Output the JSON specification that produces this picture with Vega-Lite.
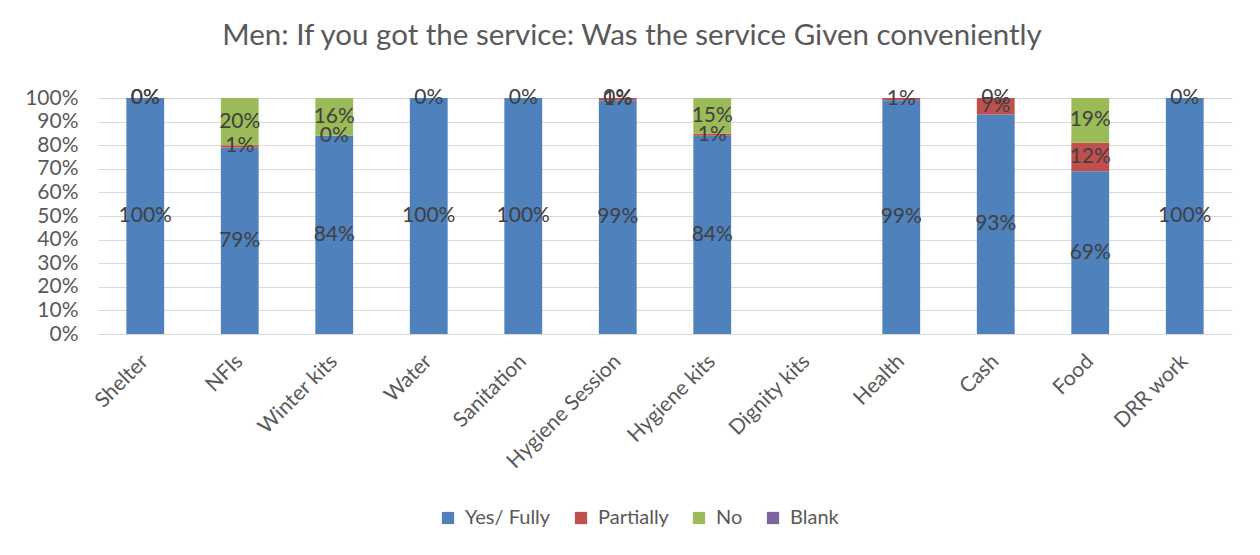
{
  "$schema": "https://vega.github.io/schema/vega-lite/v6.json",
  "width": 1134,
  "height": 236,
  "autosize": "none",
  "padding": {"left": 98, "top": 98, "right": 28, "bottom": 221},
  "background": "white",
  "title": {
    "text": "Men: If you got the service: Was the service Given conveniently",
    "font": "Lato",
    "fontSize": 29.5,
    "fontWeight": "normal",
    "color": "#595959",
    "offset": 36,
    "dx": -33
  },
  "config": {
    "font": "Lato",
    "view": {"stroke": null},
    "axis": {"labelFont": "Lato", "labelColor": "#595959", "labelFontSize": 21}
  },
  "data": {
    "values": [
      {"category": "Shelter", "series": "Yes/ Fully", "ord": 1, "value": 1.0},
      {"category": "Shelter", "series": "Partially", "ord": 2, "value": 0.0},
      {"category": "Shelter", "series": "No", "ord": 3, "value": 0.0},
      {"category": "NFIs", "series": "Yes/ Fully", "ord": 1, "value": 0.79},
      {"category": "NFIs", "series": "Partially", "ord": 2, "value": 0.01},
      {"category": "NFIs", "series": "No", "ord": 3, "value": 0.20},
      {"category": "Winter kits", "series": "Yes/ Fully", "ord": 1, "value": 0.84},
      {"category": "Winter kits", "series": "Partially", "ord": 2, "value": 0.0},
      {"category": "Winter kits", "series": "No", "ord": 3, "value": 0.16},
      {"category": "Water", "series": "Yes/ Fully", "ord": 1, "value": 1.0},
      {"category": "Water", "series": "Partially", "ord": 2, "value": 0.0},
      {"category": "Sanitation", "series": "Yes/ Fully", "ord": 1, "value": 1.0},
      {"category": "Sanitation", "series": "Partially", "ord": 2, "value": 0.0},
      {"category": "Hygiene Session", "series": "Yes/ Fully", "ord": 1, "value": 0.99},
      {"category": "Hygiene Session", "series": "Partially", "ord": 2, "value": 0.01},
      {"category": "Hygiene Session", "series": "No", "ord": 3, "value": 0.0},
      {"category": "Hygiene kits", "series": "Yes/ Fully", "ord": 1, "value": 0.84},
      {"category": "Hygiene kits", "series": "Partially", "ord": 2, "value": 0.01},
      {"category": "Hygiene kits", "series": "No", "ord": 3, "value": 0.15},
      {"category": "Health", "series": "Yes/ Fully", "ord": 1, "value": 0.99},
      {"category": "Health", "series": "Partially", "ord": 2, "value": 0.01},
      {"category": "Cash", "series": "Yes/ Fully", "ord": 1, "value": 0.93},
      {"category": "Cash", "series": "Partially", "ord": 2, "value": 0.07},
      {"category": "Cash", "series": "No", "ord": 3, "value": 0.0},
      {"category": "Food", "series": "Yes/ Fully", "ord": 1, "value": 0.69},
      {"category": "Food", "series": "Partially", "ord": 2, "value": 0.12},
      {"category": "Food", "series": "No", "ord": 3, "value": 0.19},
      {"category": "DRR work", "series": "Yes/ Fully", "ord": 1, "value": 1.0},
      {"category": "DRR work", "series": "Partially", "ord": 2, "value": 0.0}
    ]
  },
  "transform": [
    {"stack": "value", "groupby": ["category"], "sort": [{"field": "ord", "order": "ascending"}], "as": ["s0", "s1"]},
    {"calculate": "(datum.s0 + datum.s1) / 2", "as": "mid"}
  ],
  "encoding": {
    "x": {
      "field": "category",
      "type": "nominal",
      "sort": null,
      "scale": {
        "domain": ["Shelter", "NFIs", "Winter kits", "Water", "Sanitation", "Hygiene Session", "Hygiene kits", "Dignity kits", "Health", "Cash", "Food", "DRR work"],
        "paddingInner": 0.6,
        "paddingOuter": 0.3
      },
      "axis": {
        "title": null,
        "labelAngle": -45,
        "labelAlign": "right",
        "labelBaseline": "middle",
        "labelPadding": 24,
        "labelOverlap": false,
        "ticks": false,
        "domainColor": "#d9d9d9",
        "domainWidth": 1
      }
    }
  },
  "layer": [
    {
      "mark": {"type": "bar"},
      "encoding": {
        "y": {
          "field": "s1",
          "type": "quantitative",
          "scale": {"domain": [0, 1], "nice": false},
          "axis": {
            "title": null,
            "format": ".0%",
            "values": [0, 0.1, 0.2, 0.3, 0.4, 0.5, 0.6, 0.7, 0.8, 0.9, 1.0],
            "labelOverlap": false,
            "domain": false,
            "ticks": false,
            "labelPadding": 20,
            "gridColor": "#d9d9d9",
            "gridWidth": 1
          }
        },
        "y2": {"field": "s0"},
        "color": {
          "field": "series",
          "type": "nominal",
          "scale": {
            "domain": ["Yes/ Fully", "Partially", "No", "Blank"],
            "range": ["#4f81bd", "#c0504d", "#9bbb59", "#8064a2"]
          },
          "legend": {
            "title": null,
            "orient": "none",
            "direction": "horizontal",
            "legendX": 340,
            "legendY": 410,
            "symbolType": "square",
            "symbolSize": 150,
            "symbolStrokeWidth": 0,
            "labelFontSize": 20,
            "labelColor": "#595959",
            "labelFont": "Lato",
            "columnPadding": 20,
            "labelOffset": 7
          }
        }
      }
    },
    {
      "mark": {"type": "text", "font": "Lato", "fontSize": 21, "color": "#404040", "baseline": "middle"},
      "encoding": {
        "y": {
          "field": "mid",
          "type": "quantitative",
          "axis": {
            "title": null,
            "format": ".0%",
            "values": [0, 0.1, 0.2, 0.3, 0.4, 0.5, 0.6, 0.7, 0.8, 0.9, 1.0],
            "labelOverlap": false,
            "domain": false,
            "ticks": false,
            "labelPadding": 20,
            "gridColor": "#d9d9d9",
            "gridWidth": 1
          }
        },
        "text": {"field": "value", "type": "quantitative", "format": ".0%"}
      }
    }
  ]
}
